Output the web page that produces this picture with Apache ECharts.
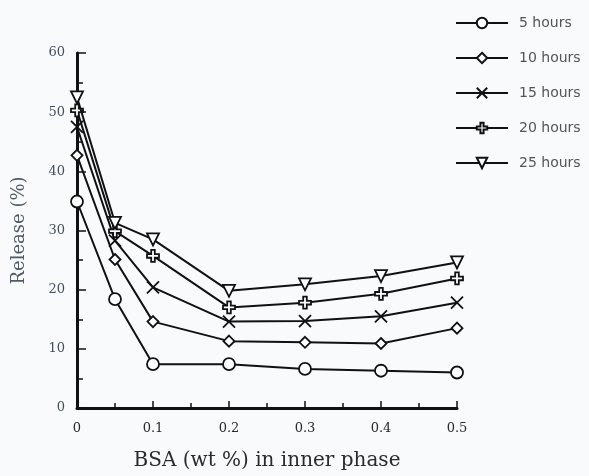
<!DOCTYPE html>
<html><head><meta charset="utf-8">
<script src="https://cdn.jsdelivr.net/npm/echarts@6/dist/echarts.min.js"></script>
<style>html,body{margin:0;padding:0;background:#f9fafc}#c{width:589px;height:476px}</style>
</head><body><div id="c"></div>
<script>
const bsa = [0, 0.05, 0.1, 0.2, 0.3, 0.4, 0.5];
const seriesNames = ['5 hours', '10 hours', '15 hours', '20 hours', '25 hours'];
const h5  = [34.9, 18.4, 7.4, 7.4, 6.6, 6.3, 6.0];
const h10 = [42.7, 25.1, 14.6, 11.3, 11.1, 10.9, 13.5];
const h15 = [47.5, 28.3, 20.4, 14.6, 14.7, 15.5, 17.8];
const h20 = [50.3, 29.9, 25.7, 17.0, 17.8, 19.3, 21.9];
const h25 = [52.5, 31.3, 28.5, 19.8, 20.9, 22.3, 24.6];
const yTicks = [0, 10, 20, 30, 40, 50, 60];
const xTicks = [0, 0.1, 0.2, 0.3, 0.4, 0.5];

const allValues = [h5, h10, h15, h20, h25];
const symbols = [
  'circle',
  'diamond',
  'path://M0,0 L10,10 M10,0 L0,10',
  'path://M3.5,0 H6.5 V3.5 H10 V6.5 H6.5 V10 H3.5 V6.5 H0 V3.5 H3.5 Z',
  'path://M0,0 L10,0 L5,9 Z'
];
const sizes = [12, 11, 12, 12, 12];

const serif = '"DejaVu Serif", "Liberation Serif", serif';
const series = seriesNames.map((name, i) => ({
  name: name,
  type: 'line',
  data: bsa.map((x, j) => [x, allValues[i][j]]),
  symbol: symbols[i],
  symbolSize: sizes[i],
  showAllSymbol: true,
  lineStyle: { color: '#111', width: 2 },
  itemStyle: { color: '#fff', borderColor: '#111', borderWidth: 1.8 },
  emphasis: { disabled: true },
  z: 2 + i
}));

const chart = echarts.init(document.getElementById('c'));
chart.setOption({
  backgroundColor: '#f9fafc',
  animation: false,
  grid: { left: 77, right: 132, top: 53, bottom: 64 },
  legend: {
    orient: 'vertical',
    left: 450,
    top: 11,
    itemWidth: 52,
    itemHeight: 13,
    itemGap: 21,
    data: seriesNames,
    textStyle: { fontFamily: '"DejaVu Sans", "Liberation Sans", sans-serif', fontSize: 14, color: '#555', padding: [0, 0, 0, 6] }
  },
  xAxis: {
    type: 'value',
    min: 0, max: 0.5, interval: 0.1,
    name: 'BSA (wt %) in inner phase',
    nameLocation: 'middle',
    nameGap: 43,
    nameTextStyle: { fontFamily: serif, fontSize: 20, color: '#2a2a2a' },
    axisLine: { lineStyle: { color: '#111', width: 3 } },
    axisTick: { inside: true, length: 7, lineStyle: { color: '#111', width: 1.5 } },
    minorTick: { show: true, splitNumber: 2, length: 5, lineStyle: { color: '#111', width: 1.5 } },
    splitLine: { show: false },
    axisLabel: { fontFamily: serif, fontSize: 13, color: '#2a2a2a', margin: 14,
      formatter: v => (xTicks.indexOf(Math.round(v*10)/10) >= 0 ? String(Math.round(v*10)/10) : '') }
  },
  yAxis: {
    type: 'value',
    min: 0, max: 60, interval: 10,
    name: 'Release (%)',
    nameLocation: 'middle',
    nameGap: 49,
    nameTextStyle: { fontFamily: serif, fontSize: 18, color: '#4f5a66' },
    axisLine: { show: true, lineStyle: { color: '#111', width: 3 } },
    axisTick: { show: true, inside: true, length: 9, lineStyle: { color: '#111', width: 1.5 } },
    minorTick: { show: true, splitNumber: 2, length: 6, lineStyle: { color: '#111', width: 1.5 } },
    splitLine: { show: false },
    axisLabel: { fontFamily: serif, fontSize: 13, color: '#45505c', margin: 12,
      formatter: v => (yTicks.indexOf(v) >= 0 ? String(v) : '') }
  },
  series: series
});
</script></body></html>
